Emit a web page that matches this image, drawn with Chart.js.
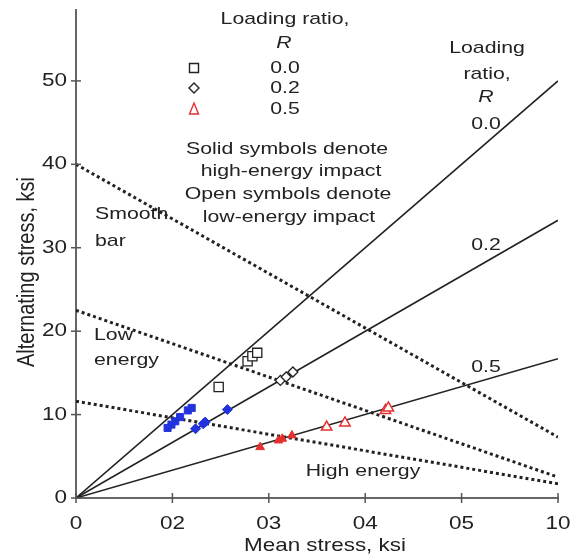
<!DOCTYPE html>
<html>
<head>
<meta charset="utf-8">
<script src="https://cdn.jsdelivr.net/npm/chart.js@4/dist/chart.umd.min.js"></script>
<style>
  html, body { margin: 0; padding: 0; background: #fff; }
  #wrap { width: 575px; height: 558px; }
</style>
</head>
<body>
<div id="wrap"><canvas id="chart" width="575" height="558"></canvas></div>
<script>
// axis ticks
const xTickValues = [0, 10, 20, 30, 40, 50];
const xTickLabels = ['0', '02', '03', '04', '05', '10'];
const yTickValues = [0, 10, 20, 30, 40, 50];
const yTickLabels = ['0', '10', '20', '30', '40', '50'];

// loading ratio lines, from origin to mean stress 50
const ratioNames = ['0.0', '0.2', '0.5'];
const ratioEndAlt = [50, 33.3, 16.7];

// dotted limit lines (alternating stress at mean 0 and at mean 50)
const limitNames = ['Smooth bar', 'Low energy', 'High energy'];
const limitStart = [40, 22.5, 11.6];
const limitEnd = [7.3, 2.5, 1.7];

// open symbols - low-energy impact
const openSqMean = [14.8, 17.8, 18.3, 18.8];
const openSqAlt = [13.3, 16.4, 17.0, 17.4];
const openDiaMean = [21.2, 21.8, 22.5];
const openDiaAlt = [14.1, 14.5, 15.1];
const openTriMean = [26.0, 27.9, 32.1, 32.4];
const openTriAlt = [8.5, 9.0, 10.5, 10.8];

// solid symbols - high-energy impact
const solidSqMean = [9.5, 9.9, 10.3, 10.8, 11.6, 12.0];
const solidSqAlt = [8.4, 8.8, 9.2, 9.7, 10.5, 10.8];
const solidDiaMean = [12.4, 13.2, 13.4, 15.7];
const solidDiaAlt = [8.3, 8.9, 9.1, 10.6];
const solidTriMean = [19.1, 21.0, 21.4, 22.4];
const solidTriAlt = [6.1, 6.9, 7.1, 7.5];

const BLUE = '#2233dd';
const RED = '#e5302e';
const INK = '#222';
const FONT = '"Liberation Sans", Arial, Helvetica, sans-serif';

function pts(xs, ys) {
  return xs.map((x, i) => ({ x: x, y: ys[i] }));
}

const datasets = [];

// markers first so they sit on top
datasets.push({ data: pts(openSqMean, openSqAlt), pointStyle: 'rect', pointRadius: 6.5,
  backgroundColor: '#fff', borderColor: INK, borderWidth: 1.3 });
datasets.push({ data: pts(openDiaMean, openDiaAlt), pointStyle: 'rectRot', pointRadius: 5,
  backgroundColor: '#fff', borderColor: INK, borderWidth: 1.3 });
datasets.push({ data: pts(openTriMean, openTriAlt), pointStyle: 'triangle', pointRadius: 6,
  backgroundColor: '#fff', borderColor: RED, borderWidth: 1.5 });
datasets.push({ data: pts(solidSqMean, solidSqAlt), pointStyle: 'rect', pointRadius: 5,
  backgroundColor: BLUE, borderColor: BLUE, borderWidth: 1 });
datasets.push({ data: pts(solidDiaMean, solidDiaAlt), pointStyle: 'rectRot', pointRadius: 5,
  backgroundColor: BLUE, borderColor: BLUE, borderWidth: 1 });
datasets.push({ data: pts(solidTriMean, solidTriAlt), pointStyle: 'triangle', pointRadius: 5,
  backgroundColor: RED, borderColor: RED, borderWidth: 1 });

limitNames.forEach((name, i) => {
  datasets.push({ label: name, data: [{ x: 0, y: limitStart[i] }, { x: 50, y: limitEnd[i] }],
    showLine: true, pointRadius: 0, borderColor: INK, borderWidth: 3,
    borderDash: [3, 3], borderCapStyle: 'butt' });
});

ratioNames.forEach((name, i) => {
  datasets.push({ label: 'R ' + name, data: [{ x: 0, y: 0 }, { x: 50, y: ratioEndAlt[i] }],
    showLine: true, pointRadius: 0, borderColor: INK, borderWidth: 1.6 });
});

// text helper, glyphs a bit wide like the scanned figure
function txt(ctx, s, x, y, o) {
  o = o || {};
  ctx.save();
  ctx.font = (o.style || '') + ' ' + (o.size || 17) + 'px ' + FONT;
  ctx.fillStyle = o.color || INK;
  ctx.textAlign = o.align || 'center';
  ctx.textBaseline = 'middle';
  ctx.translate(x, y);
  if (o.rot) {
    ctx.rotate(o.rot);
    ctx.scale(1, o.sy || 1.15);
  } else {
    ctx.scale(o.sx || 1.25, 1);
  }
  ctx.fillText(s, 0, 0);
  ctx.restore();
}

function marker(ctx, kind, x, y, color) {
  ctx.save();
  ctx.strokeStyle = color;
  ctx.fillStyle = '#fff';
  ctx.lineWidth = 1.4;
  ctx.beginPath();
  if (kind === 'sq') {
    ctx.rect(x - 4.5, y - 4.5, 9, 9);
  } else if (kind === 'dia') {
    ctx.moveTo(x, y - 5); ctx.lineTo(x + 5, y); ctx.lineTo(x, y + 5); ctx.lineTo(x - 5, y); ctx.closePath();
  } else {
    ctx.moveTo(x, y - 6); ctx.lineTo(x + 4.5, y + 5); ctx.lineTo(x - 4.5, y + 5); ctx.closePath();
  }
  ctx.fill();
  ctx.stroke();
  ctx.restore();
}

const decor = {
  id: 'decor',
  afterDraw(chart) {
    const ctx = chart.ctx;
    const xs = chart.scales.x, ys = chart.scales.y;
    const a = chart.chartArea;

    // tick marks crossing the axes, and their labels
    ctx.save();
    ctx.strokeStyle = '#555';
    ctx.lineWidth = 1.5;
    xTickValues.forEach((v, i) => {
      const px = xs.getPixelForValue(v);
      ctx.beginPath(); ctx.moveTo(px, a.bottom - 5); ctx.lineTo(px, a.bottom + 5); ctx.stroke();
      txt(ctx, xTickLabels[i], px, a.bottom + 26, { size: 18 });
    });
    yTickValues.forEach((v, i) => {
      const py = ys.getPixelForValue(v);
      ctx.beginPath(); ctx.moveTo(a.left - 5, py); ctx.lineTo(a.left + 5, py); ctx.stroke();
      txt(ctx, yTickLabels[i], a.left - 9, py, { size: 18, align: 'right' });
    });
    ctx.restore();

    // axis titles
    txt(ctx, 'Mean stress, ksi', (a.left + a.right) / 2 + 8, 546, { size: 19, sx: 1.18 });
    txt(ctx, 'Alternating stress, ksi', 28, 272, { size: 20, rot: -Math.PI / 2, sy: 1.15 });

    // legend block
    txt(ctx, 'Loading ratio,', 285, 19);
    txt(ctx, 'R', 284, 43, { style: 'italic' });
    marker(ctx, 'sq', 194, 68, INK);
    marker(ctx, 'dia', 194, 88, INK);
    marker(ctx, 'tri', 194, 109, RED);
    txt(ctx, '0.0', 285, 68);
    txt(ctx, '0.2', 285, 88);
    txt(ctx, '0.5', 285, 109);
    txt(ctx, 'Solid symbols denote', 287, 149);
    txt(ctx, 'high-energy impact', 291, 171);
    txt(ctx, 'Open symbols denote', 288, 194);
    txt(ctx, 'low-energy impact', 289, 217);

    // labels for the ratio lines
    txt(ctx, 'Loading', 487, 48);
    txt(ctx, 'ratio,', 487, 74);
    txt(ctx, 'R', 486, 97, { style: 'italic' });
    txt(ctx, ratioNames[0], 486, 124);
    txt(ctx, ratioNames[1], 486, 245);
    txt(ctx, ratioNames[2], 486, 367);

    // labels for the dotted lines
    txt(ctx, 'Smooth', 95, 214, { align: 'left' });
    txt(ctx, 'bar', 95, 241, { align: 'left' });
    txt(ctx, 'Low', 94, 335, { align: 'left' });
    txt(ctx, 'energy', 94, 360, { align: 'left' });
    txt(ctx, 'High energy', 363, 471);
  }
};

new Chart(document.getElementById('chart'), {
  type: 'scatter',
  data: { datasets: datasets },
  options: {
    responsive: false,
    animation: false,
    devicePixelRatio: 1,
    layout: { padding: { left: 0, right: 17, top: 10, bottom: 0 } },
    plugins: { legend: { display: false }, tooltip: { enabled: false } },
    scales: {
      x: {
        type: 'linear', min: 0, max: 50,
        ticks: { display: false },
        grid: { drawOnChartArea: false, drawTicks: false },
        border: { color: '#666', width: 2 },
        afterFit: s => { s.height = 60; }
      },
      y: {
        type: 'linear', min: 0, max: 58.5,
        ticks: { display: false },
        grid: { drawOnChartArea: false, drawTicks: false },
        border: { color: '#666', width: 2 },
        afterFit: s => { s.width = 76; }
      }
    }
  },
  plugins: [decor]
});
</script>
</body>
</html>
